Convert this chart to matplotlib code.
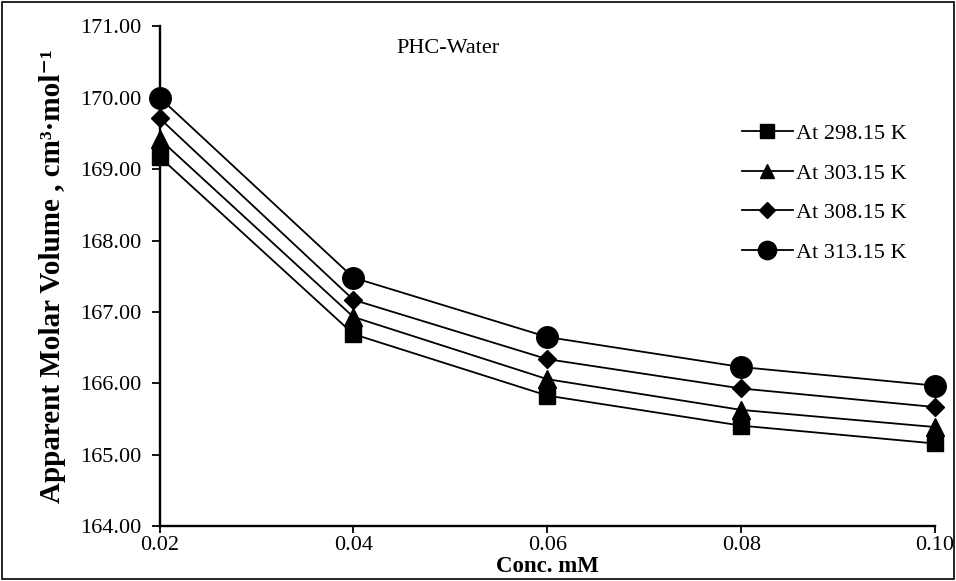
import matplotlib
matplotlib.use('Agg')
import matplotlib.pyplot as plt
from matplotlib.patches import Rectangle
from matplotlib.ticker import FormatStrFormatter

# Data
conc = [0.02, 0.04, 0.06, 0.08, 0.10]
v_298 = [169.17, 166.69, 165.83, 165.41, 165.16]
v_303 = [169.42, 166.93, 166.06, 165.63, 165.39]
v_308 = [169.71, 167.17, 166.34, 165.93, 165.67]
v_313 = [170.00, 167.48, 166.65, 166.23, 165.97]

series = [
    ('At 298.15 K', v_298, 's', 11.5),
    ('At 303.15 K', v_303, '^', 12.5),
    ('At 308.15 K', v_308, 'D', 9.5),
    ('At 313.15 K', v_313, 'o', 15.5),
]

plt.rcParams['font.family'] = ['Liberation Serif', 'DejaVu Serif']

fig = plt.figure(figsize=(9.56, 5.81), dpi=100)
ax = fig.add_axes([0.167, 0.094, 0.811, 0.861])

for label, vals, marker, ms in series:
    ax.plot(conc, vals, color='black', lw=1.3, marker=marker, ms=ms,
            mfc='black', mec='black', label=label, clip_on=False)

ax.set_xlim(0.02, 0.10)
ax.set_ylim(164, 171)
ax.set_xticks(conc)
ax.set_yticks(range(164, 172))
ax.xaxis.set_major_formatter(FormatStrFormatter('%.2f'))
ax.yaxis.set_major_formatter(FormatStrFormatter('%.2f'))
ax.tick_params(axis='both', direction='out', length=5, width=1.3,
               labelsize=16, colors='black')
ax.tick_params(axis='x', pad=2)
ax.tick_params(axis='y', length=6, pad=7)

for side in ['top', 'right']:
    ax.spines[side].set_visible(False)
for side in ['left', 'bottom']:
    ax.spines[side].set_linewidth(1.7)

ax.set_xlabel('Conc. mM', fontsize=16.5, fontweight='bold', labelpad=1)
ax.set_ylabel('Apparent Molar Volume , cm³·mol⁻¹', fontsize=21,
              fontweight='bold', labelpad=10)

ax.text(0.305, 0.955, 'PHC-Water', transform=ax.transAxes, fontsize=16,
        ha='left', va='center')

ax.legend(loc='upper right', bbox_to_anchor=(0.99, 0.845), frameon=False,
          fontsize=16, handlelength=2.3, labelspacing=0.85, handletextpad=0.15,
          markerscale=0.85)

# thin border round the whole figure
fig.patches.append(Rectangle((0.002, 0.003), 0.996, 0.994, transform=fig.transFigure,
                             fill=False, edgecolor='black', lw=1.2))

fig.savefig('out.png', dpi=100)
